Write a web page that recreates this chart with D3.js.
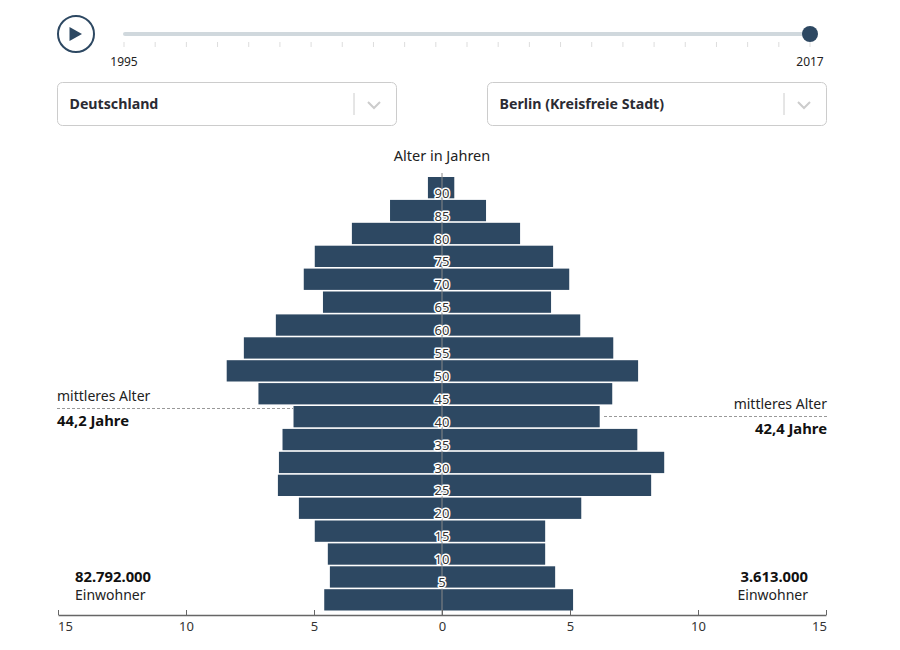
<!DOCTYPE html>
<html>
<head>
<meta charset="utf-8">
<script src="https://cdn.jsdelivr.net/npm/d3@7"></script>
<style>
html, body { margin: 0; padding: 0; background: #fff; overflow: hidden; }
svg { display: block; font-family: "Noto Sans", Lato, sans-serif; fill: #222; }
</style>
</head>
<body>
<svg id="chart" width="900" height="650"></svg>
<script>
var years = d3.range(1995, 2018);
var yearLabels = [1995, 2017];
var currentYear = 2017;
var ageGroups = [90, 85, 80, 75, 70, 65, 60, 55, 50, 45, 40, 35, 30, 25, 20, 15, 10, 5, 0];
var germany = [0.55, 2.03, 3.52, 4.97, 5.4, 4.65, 6.49, 7.74, 8.41, 7.17, 5.8, 6.23, 6.37, 6.41, 5.59, 4.97, 4.46, 4.38, 4.6];
var berlin = [0.48, 1.72, 3.05, 4.34, 4.97, 4.26, 5.4, 6.69, 7.66, 6.65, 6.16, 7.63, 8.68, 8.17, 5.44, 4.03, 4.03, 4.42, 5.12];
var xTicks = [-15, -10, -5, 0, 5, 10, 15];
var navy = "#2d4862";

var svg = d3.select("#chart");

var x = d3.scaleLinear().domain([-15, 15]).range([58, 826]);
var y = d3.scaleBand().domain(ageGroups).range([177, 610.5]).paddingInner(0.07).paddingOuter(0);

// player
var player = svg.append("g");
player.append("circle").attr("cx", 76).attr("cy", 34).attr("r", 18)
    .attr("fill", "#fff").attr("stroke", navy).attr("stroke-width", 2);
player.append("path").attr("d", "M69.5,27L82,34L69.5,41Z").attr("fill", navy);

var slider = d3.scaleLinear().domain([1995, 2017]).range([124, 810]);
svg.append("line").attr("x1", slider(1995) + 1).attr("x2", slider(2017)).attr("y1", 34).attr("y2", 34)
    .attr("stroke", "#d0d8dd").attr("stroke-width", 4).attr("stroke-linecap", "round");
svg.selectAll(".yearTick").data(years).enter().append("line").attr("class", "yearTick")
    .attr("x1", slider).attr("x2", slider).attr("y1", 42).attr("y2", 47)
    .attr("stroke", "#ddd").attr("stroke-width", 1);
svg.selectAll(".yearLabel").data(yearLabels).enter().append("text").attr("class", "yearLabel")
    .attr("x", slider).attr("y", 66).attr("text-anchor", "middle")
    .attr("font-size", 12).text(function (d) { return d; });
svg.append("circle").attr("cx", slider(currentYear)).attr("cy", 34).attr("r", 8).attr("fill", navy);

// dropdowns
function dropdown(left, width, label) {
    var g = svg.append("g").attr("transform", "translate(" + left + ",82)");
    g.append("rect").attr("x", 0.5).attr("y", 0.5).attr("width", width).attr("height", 43).attr("rx", 5)
        .attr("fill", "#fff").attr("stroke", "#ccc");
    g.append("text").attr("x", 12.5).attr("y", 27).attr("font-size", 14.2).attr("font-weight", 700)
        .attr("fill", "#2b2b33").text(label);
    g.append("line").attr("x1", width - 42).attr("x2", width - 42).attr("y1", 11).attr("y2", 33)
        .attr("stroke", "#ccc");
    g.append("path").attr("d", "M" + (width - 28) + ",20L" + (width - 22) + ",26L" + (width - 16) + ",20")
        .attr("fill", "none").attr("stroke", "#ccc").attr("stroke-width", 2);
}
dropdown(57, 339, "Deutschland");
dropdown(487, 339, "Berlin (Kreisfreie Stadt)");

// bars
svg.selectAll(".barLeft").data(ageGroups).enter().append("rect").attr("class", "barLeft")
    .attr("x", function (d, i) { return x(-germany[i]); })
    .attr("y", function (d) { return y(d); })
    .attr("width", function (d, i) { return x(0) - x(-germany[i]); })
    .attr("height", y.bandwidth())
    .attr("fill", navy);
svg.selectAll(".barRight").data(ageGroups).enter().append("rect").attr("class", "barRight")
    .attr("x", x(0))
    .attr("y", function (d) { return y(d); })
    .attr("width", function (d, i) { return x(berlin[i]) - x(0); })
    .attr("height", y.bandwidth())
    .attr("fill", navy);

// centre line and age labels
svg.append("line").attr("x1", x(0)).attr("x2", x(0)).attr("y1", 173).attr("y2", 615)
    .attr("stroke", "#888").attr("stroke-width", 1);
svg.selectAll(".ageLabel").data(ageGroups.filter(function (d) { return d > 0; })).enter()
    .append("text").attr("class", "ageLabel")
    .attr("x", x(0))
    .attr("y", function (d) { return y(d) + y.bandwidth() - 0.5; })
    .attr("text-anchor", "middle").attr("font-size", 13)
    .attr("fill", "#333").attr("stroke", "#fff").attr("stroke-width", 3)
    .attr("paint-order", "stroke").attr("stroke-linejoin", "round")
    .text(function (d) { return d; });

svg.append("text").attr("x", x(0)).attr("y", 161).attr("text-anchor", "middle")
    .attr("font-size", 14.5).text("Alter in Jahren");

// x axis, the outer labels sit inside the axis ends
var axis = d3.axisBottom(x).tickValues(xTicks).tickSize(6).tickSizeOuter(0)
    .tickFormat(function (d) { return Math.abs(d); });
var axisG = svg.append("g").attr("transform", "translate(0,615)").call(axis);
axisG.selectAll("line").attr("y1", -5).attr("y2", 0).attr("stroke", "#666");
axisG.select(".domain").attr("stroke", "#666").attr("stroke-width", 1.5);
axisG.selectAll("text").attr("y", 7).attr("font-family", "Noto Sans").attr("font-size", 13).attr("fill", "#333")
    .attr("dx", function (d) { return d === -15 ? 7 : d === 15 ? -7 : 0; });

// median age
svg.append("line").attr("x1", 57).attr("x2", 293).attr("y1", 408.5).attr("y2", 408.5)
    .attr("stroke", "#999").attr("stroke-dasharray", "3,2");
svg.append("text").attr("x", 57).attr("y", 401).attr("font-size", 14).text("mittleres Alter");
svg.append("text").attr("x", 57).attr("y", 426).attr("font-size", 14.8).attr("font-weight", 700).attr("fill", "#111").text("44,2 Jahre");

svg.append("line").attr("x1", 604).attr("x2", 827).attr("y1", 416.5).attr("y2", 416.5)
    .attr("stroke", "#999").attr("stroke-dasharray", "3,2");
svg.append("text").attr("x", 827).attr("y", 409).attr("text-anchor", "end").attr("font-size", 14).text("mittleres Alter");
svg.append("text").attr("x", 827).attr("y", 434).attr("text-anchor", "end").attr("font-size", 14.8).attr("font-weight", 700).attr("fill", "#111").text("42,4 Jahre");

// population
svg.append("text").attr("x", 75).attr("y", 582).attr("font-size", 14.8).attr("font-weight", 700).attr("fill", "#111").text("82.792.000");
svg.append("text").attr("x", 75).attr("y", 600).attr("font-size", 14).text("Einwohner");
svg.append("text").attr("x", 808).attr("y", 582).attr("text-anchor", "end").attr("font-size", 14.8).attr("font-weight", 700).attr("fill", "#111").text("3.613.000");
svg.append("text").attr("x", 808).attr("y", 600).attr("text-anchor", "end").attr("font-size", 14).text("Einwohner");
</script>
</body>
</html>
